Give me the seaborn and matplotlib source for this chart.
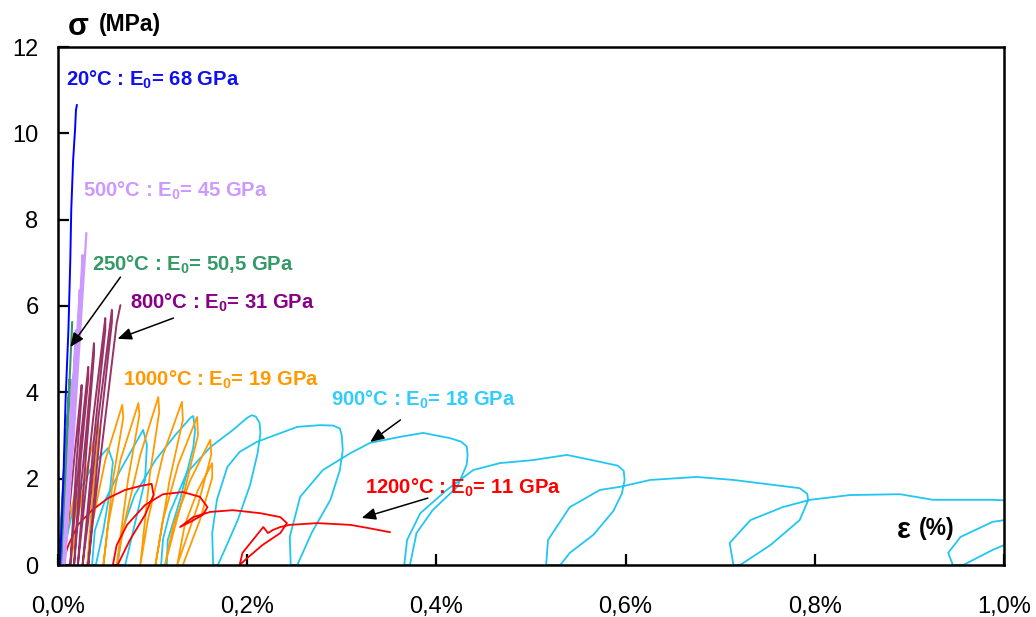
import matplotlib
matplotlib.use("Agg")
import matplotlib.pyplot as plt
import seaborn as sns

# ---------------- data (strain %, stress MPa) ----------------
x20 = [0.002, 0.004, 0.006, 0.008, 0.011, 0.013, 0.014, 0.016, 0.018, 0.019, 0.020]
y20 = [0, 1.04, 2.20, 3.82, 5.44, 7.06, 8.22, 9.38, 10.08, 10.54, 10.66]

x250 = [0.001, 0.005, 0.008, 0.008, 0.004, 0.002, 0.006, 0.012, 0.012, 0.006, 0.003, 0.008, 0.015]
y250 = [0, 1.51, 3.13, 2.90, 1.27, 0, 1.74, 4.29, 4.01, 1.97, 0, 2.20, 5.63]

x500 = [0.002, 0.008, 0.015, 0.015, 0.008, 0.004,
        0.011, 0.019, 0.019, 0.011, 0.005,
        0.013, 0.023, 0.023, 0.014, 0.006,
        0.015, 0.026, 0.026, 0.016, 0.007,
        0.017, 0.030]
y500 = [0, 2.20, 4.29, 4.05, 1.97, 0,
        2.20, 5.44, 5.17, 2.43, 0,
        2.66, 6.37, 6.09, 2.90, 0,
        2.90, 7.18, 6.88, 3.13, 0,
        3.13, 7.69]

x800 = [0.004, 0.011, 0.018, 0.025, 0.025, 0.019, 0.013,
        0.017, 0.024, 0.032, 0.032, 0.024, 0.017,
        0.021, 0.030, 0.038, 0.038, 0.030, 0.021,
        0.026, 0.037, 0.050, 0.050, 0.039, 0.026,
        0.032, 0.043, 0.057, 0.057, 0.045, 0.032,
        0.037, 0.051, 0.062, 0.066]
y800 = [0, 1.04, 2.66, 4.17, 3.94, 2.20, 0,
        1.04, 2.90, 4.59, 4.33, 2.43, 0,
        1.04, 3.13, 5.14, 4.86, 2.66, 0,
        1.04, 3.36, 5.72, 5.44, 3.13, 0,
        1.04, 3.47, 5.91, 5.63, 3.24, 0,
        1.04, 3.59, 5.60, 6.02]

x1000 = [0.002, 0.013, 0.021, 0.022, 0.016, 0.013,
         0.019, 0.030, 0.042, 0.043, 0.037, 0.031,
         0.036, 0.050, 0.068, 0.069, 0.058, 0.048,
         0.053, 0.066, 0.085, 0.086, 0.074, 0.062,
         0.071, 0.087, 0.106, 0.107, 0.097, 0.087,
         0.095, 0.111, 0.131, 0.132, 0.118, 0.103,
         0.111, 0.127, 0.147, 0.148, 0.134, 0.113,
         0.122, 0.140, 0.161, 0.162, 0.148, 0.126,
         0.134, 0.148, 0.163, 0.163, 0.150, 0.132]
y1000 = [0, 1.16, 1.97, 1.78, 0.81, 0,
         0.81, 2.20, 3.29, 3.01, 1.74, 0,
         0.93, 2.43, 3.71, 3.41, 1.97, 0,
         0.93, 2.43, 3.75, 3.47, 1.97, 0,
         1.04, 2.55, 3.89, 3.54, 2.08, 0,
         1.04, 2.55, 3.78, 3.36, 1.97, 0,
         1.04, 2.32, 3.43, 3.01, 1.74, 0,
         0.93, 1.97, 2.90, 2.55, 1.39, 0,
         0.93, 1.74, 2.36, 2.02, 1.04, 0]

x900 = [0.004, 0.011, 0.018, 0.034, 0.044, 0.053,
        0.058, 0.055, 0.048, 0.040,
        0.036, 0.039, 0.050, 0.066, 0.081, 0.090,
        0.094, 0.092, 0.081, 0.071,
        0.063, 0.068, 0.081, 0.103, 0.124, 0.140, 0.143,
        0.145, 0.143, 0.129, 0.116, 0.115,
        0.109, 0.111, 0.118, 0.136, 0.161, 0.185, 0.200, 0.205,
        0.209, 0.213, 0.214, 0.211, 0.203, 0.190, 0.177, 0.169,
        0.164, 0.163, 0.168, 0.179, 0.192, 0.210, 0.227, 0.253, 0.277, 0.291, 0.298, 0.300,
        0.301, 0.298, 0.288, 0.268, 0.253,
        0.246, 0.245, 0.256, 0.280, 0.309, 0.330, 0.362, 0.386, 0.414, 0.426, 0.432, 0.433,
        0.432, 0.422, 0.396, 0.379, 0.372,
        0.366, 0.369, 0.383, 0.411, 0.439, 0.467, 0.502, 0.538, 0.573, 0.592, 0.598, 0.599,
        0.596, 0.587, 0.566, 0.541, 0.531,
        0.516, 0.518, 0.541, 0.573, 0.594, 0.626, 0.675, 0.714, 0.784, 0.792, 0.793,
        0.784, 0.753, 0.721,
        0.714, 0.710, 0.732, 0.766, 0.795, 0.837, 0.890, 0.925, 0.988, 1.040,
        1.060, 1.080, 1.050, 1.010, 0.988, 0.957,
        0.946, 0.941, 0.954, 0.988, 1.020]
y900 = [0, 0.81, 1.51, 2.20, 2.50, 2.71,
        2.39, 1.74, 0.81, 0,
        0, 0.81, 1.51, 2.20, 2.78, 3.13,
        2.78, 1.97, 0.93, 0,
        0, 0.81, 1.62, 2.43, 3.01, 3.41, 3.45,
        3.13, 2.73, 1.51, 0.58, 0,
        0, 0.60, 1.20, 2.13, 2.73, 3.13, 3.41, 3.47,
        3.44, 3.30, 3.06, 2.59, 1.85, 1.04, 0.39, 0,
        0, 0.74, 1.51, 2.27, 2.62, 2.85, 2.99, 3.20, 3.24, 3.23, 3.16, 3.00,
        2.66, 2.20, 1.51, 0.74, 0,
        0, 0.65, 1.58, 2.20, 2.59, 2.83, 2.97, 3.06, 2.94, 2.86, 2.75, 2.55,
        2.32, 1.81, 1.27, 0.74, 0,
        0, 0.58, 1.20, 1.74, 2.20, 2.36, 2.43, 2.55, 2.39, 2.30, 2.18, 1.97,
        1.65, 1.25, 0.70, 0.28, 0,
        0, 0.58, 1.34, 1.74, 1.81, 1.97, 2.04, 1.97, 1.78, 1.65, 1.50,
        1.04, 0.46, 0,
        0, 0.51, 1.04, 1.34, 1.51, 1.62, 1.64, 1.51, 1.51, 1.46,
        1.40, 1.20, 0.85, 0.55, 0.35, 0,
        0, 0.28, 0.65, 1.00, 1.10]

x1200 = [0.004, 0.011, 0.021, 0.036, 0.053, 0.071, 0.087, 0.099,
         0.101, 0.092, 0.076, 0.063,
         0.058, 0.062, 0.073, 0.092, 0.111, 0.132, 0.150, 0.158,
         0.153, 0.140, 0.129,
         0.143, 0.161, 0.185, 0.214, 0.235, 0.242,
         0.235, 0.216, 0.200, 0.192,
         0.195, 0.206, 0.217, 0.222, 0.227, 0.235, 0.245, 0.274, 0.309, 0.327, 0.351]
y1200 = [0, 0.46, 0.93, 1.27, 1.55, 1.74, 1.83, 1.88,
         1.62, 1.16, 0.58, 0,
         0, 0.46, 0.93, 1.39, 1.64, 1.69, 1.58, 1.34,
         1.16, 1.00, 0.88,
         1.11, 1.23, 1.27, 1.20, 1.11, 0.97,
         0.74, 0.46, 0.16, 0,
         0.28, 0.58, 0.88, 0.74, 0.81, 0.88, 0.93, 0.97, 0.93, 0.86, 0.76]

x_ticks = [0.0, 0.2, 0.4, 0.6, 0.8, 1.0]
x_tick_labels = ["0,0%", "0,2%", "0,4%", "0,6%", "0,8%", "1,0%"]
y_ticks = [0, 2, 4, 6, 8, 10, 12]
y_tick_labels = ["0", "2", "4", "6", "8", "10", "12"]

labels = {
    "20": "20°C : E$_0$= 68 GPa",
    "500": "500°C : E$_0$= 45 GPa",
    "250": "250°C : E$_0$= 50,5 GPa",
    "800": "800°C : E$_0$= 31 GPa",
    "1000": "1000°C : E$_0$= 19 GPa",
    "900": "900°C : E$_0$= 18 GPa",
    "1200": "1200°C : E$_0$= 11 GPa",
}

# ---------------- style ----------------
sns.set_theme(style="white")
plt.rcParams["font.family"] = ["Liberation Sans", "DejaVu Sans"]
plt.rcParams["mathtext.fontset"] = "custom"
plt.rcParams["mathtext.rm"] = "Liberation Sans:bold"
plt.rcParams["mathtext.it"] = "Liberation Sans:bold"
plt.rcParams["mathtext.bf"] = "Liberation Sans:bold"

fig = plt.figure(figsize=(10.36, 6.17), dpi=100)
ax = fig.add_axes([58 / 1036, 52 / 617, (1004 - 58) / 1036, (565 - 47) / 617])

curves = [
    (x900, y900, "#22C6F0", 1.3),
    (x1000, y1000, "#FF9A00", 1.3),
    (x1200, y1200, "#FF0000", 1.3),
    (x800, y800, "#993366", 1.4),
    (x500, y500, "#CC99FF", 1.6),
    (x250, y250, "#339966", 1.5),
    (x20, y20, "#0000FF", 1.4),
]
for xs, ys, col, lw in curves:
    sns.lineplot(x=xs, y=ys, sort=False, estimator=None, color=col, lw=lw, ax=ax)

ax.set_xlim(0, 1.0)
ax.set_ylim(0, 12)
ax.set_xticks(x_ticks)
ax.set_xticklabels(x_tick_labels)
ax.set_yticks(y_ticks)
ax.set_yticklabels(y_tick_labels)
ax.tick_params(axis="both", direction="in", length=8, width=1.6, colors="black",
               labelsize=17)
ax.tick_params(axis="x", pad=22)
ax.tick_params(axis="y", pad=14)
ax.tick_params(top=False, right=False, bottom=True, left=True)
for sp in ax.spines.values():
    sp.set_visible(True)
    sp.set_color("black")
    sp.set_linewidth(1.8)
ax.set_xlabel("")
ax.set_ylabel("")
ax.grid(False)

txt = dict(fontsize=14.6, fontweight="bold", ha="left", va="center")
ax.text(0.0085, 11.23, labels["20"], color="#1010EE", **txt)
ax.text(0.026, 8.66, labels["500"], color="#CC99FF", **txt)
ax.text(0.036, 6.95, labels["250"], color="#339966", **txt)
ax.text(0.076, 6.07, labels["800"], color="#880088", **txt)
ax.text(0.069, 4.29, labels["1000"], color="#FF9900", **txt)
ax.text(0.289, 3.82, labels["900"], color="#33CCFF", **txt)
ax.text(0.325, 1.78, labels["1200"], color="#FF0000", **txt)

arrow = dict(arrowstyle="-|>,head_length=0.7,head_width=0.3", color="black",
             lw=1.1, shrinkA=0, shrinkB=0)
ax.annotate("", xy=(0.013, 5.05), xytext=(0.066, 6.67), arrowprops=arrow)
ax.annotate("", xy=(0.063, 5.24), xytext=(0.122, 5.72), arrowprops=arrow)
ax.annotate("", xy=(0.330, 2.85), xytext=(0.362, 3.36), arrowprops=arrow)
ax.annotate("", xy=(0.321, 1.09), xytext=(0.391, 1.55), arrowprops=arrow)

fig.text(68 / 1036, 1 - 27 / 617, "σ", fontsize=22, fontweight="bold",
         ha="left", va="center", color="black")
fig.text(99 / 1036, 1 - 25 / 617, "(MPa)", fontsize=16.5, fontweight="bold",
         ha="left", va="center", color="black")
fig.text(897 / 1036, 1 - 530 / 617, "ε", fontsize=21, fontweight="bold",
         ha="left", va="center", color="black")
fig.text(919 / 1036, 1 - 528 / 617, "(%)", fontsize=16.5, fontweight="bold",
         ha="left", va="center", color="black")

fig.savefig("out.png", dpi=100)
